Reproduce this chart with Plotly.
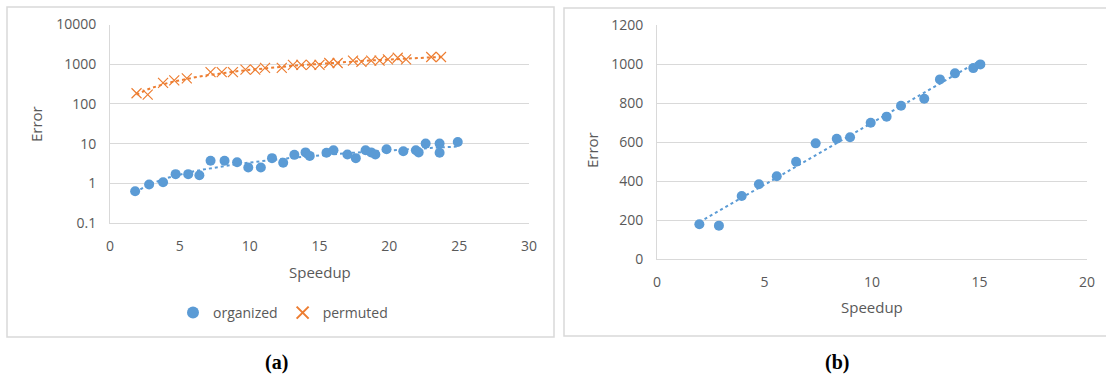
import numpy as np
import plotly.graph_objects as go

# (a) error vs speedup, log scale
org_speedup = [1.8, 2.8, 3.8, 4.7, 5.6, 6.4, 7.2, 8.2, 9.1, 9.9, 10.8, 11.6, 12.4, 13.2, 14.0, 14.3,
               15.5, 16.0, 17.0, 17.6, 18.3, 18.7, 19.0, 19.8, 21.0, 21.9, 22.1, 22.6, 23.6, 23.6, 24.9]
org_error = [0.63, 0.93, 1.06, 1.7, 1.7, 1.6, 3.7, 3.7, 3.4, 2.5, 2.5, 4.3, 3.3, 5.2, 6.0, 4.9,
             5.9, 6.8, 5.3, 4.3, 6.8, 6.0, 5.3, 7.2, 6.4, 6.8, 6.0, 10, 10, 5.9, 11]
perm_speedup = [1.9, 2.7, 3.8, 4.6, 5.5, 7.2, 8.0, 8.8, 9.7, 10.4, 11.1, 12.3, 13.1, 13.7, 14.4,
                15.0, 15.7, 16.3, 17.4, 18.0, 18.7, 19.3, 19.9, 20.6, 21.2, 23.0, 23.7]
perm_error = [185, 172, 338, 393, 441, 630, 630, 630, 730, 730, 807, 807, 960, 960, 960,
              960, 1070, 1070, 1230, 1140, 1230, 1230, 1320, 1450, 1320, 1520, 1520]

# (b) error vs speedup, linear scale
b_speedup = [1.97, 2.88, 3.94, 4.74, 5.57, 6.47, 7.38, 8.36, 8.98, 9.94, 10.68, 11.35, 12.43,
             13.16, 13.86, 14.71, 15.04]
b_error = [178, 171, 323, 383, 424, 499, 593, 617, 624, 699, 730, 786, 822, 921, 952, 979, 998]

log_ticks = [0.1, 1, 10, 100, 1000, 10000]
log_tick_text = ["0.1", "1", "10", "100", "1000", "10000"]

BLUE = "#5B9BD5"
ORANGE = "#ED7D31"
GRID = "#D9D9D9"
TXT = "#595959"
FONT = "Open Sans"
W, H = 1106, 379


def power_trend(x, y, n=60):
    x = np.asarray(x, float)
    y = np.asarray(y, float)
    b, a = np.polyfit(np.log(x), np.log(y), 1)
    xs = np.linspace(x.min(), x.max(), n)
    return xs, np.exp(a) * xs ** b


def linear_trend(x, y):
    x = np.asarray(x, float)
    y = np.asarray(y, float)
    m, c = np.polyfit(x, y, 1)
    xs = np.array([x.min(), x.max()])
    return xs, m * xs + c


fig = go.Figure()

tx, ty = power_trend(org_speedup, org_error)
fig.add_trace(go.Scatter(x=tx, y=ty, mode="lines", line=dict(color=BLUE, width=2, dash="dot"),
                         showlegend=False, hoverinfo="skip", xaxis="x", yaxis="y"))
tx, ty = power_trend(perm_speedup, perm_error)
fig.add_trace(go.Scatter(x=tx, y=ty, mode="lines", line=dict(color=ORANGE, width=2, dash="dot"),
                         showlegend=False, hoverinfo="skip", xaxis="x", yaxis="y"))
fig.add_trace(go.Scatter(x=org_speedup, y=org_error, mode="markers", name="organized",
                         marker=dict(symbol="circle", size=10, color=BLUE),
                         xaxis="x", yaxis="y"))
fig.add_trace(go.Scatter(x=perm_speedup, y=perm_error, mode="markers", name="permuted",
                         marker=dict(symbol="x-thin", size=10, color=ORANGE,
                                     line=dict(width=1.2, color=ORANGE)),
                         xaxis="x", yaxis="y"))

tx, ty = linear_trend(b_speedup, b_error)
fig.add_trace(go.Scatter(x=tx, y=ty, mode="lines", line=dict(color=BLUE, width=2, dash="dot"),
                         showlegend=False, hoverinfo="skip", xaxis="x2", yaxis="y2"))
fig.add_trace(go.Scatter(x=b_speedup, y=b_error, mode="markers", showlegend=False,
                         marker=dict(symbol="circle", size=10, color=BLUE),
                         xaxis="x2", yaxis="y2"))

axis_common = dict(showgrid=True, gridcolor=GRID, gridwidth=1, ticks="",
                   tickfont=dict(family=FONT, size=14, color=TXT),
                   showline=True, linecolor=GRID, linewidth=1, zeroline=False,
                   ticklabelstandoff=10, automargin=False)

fig.update_layout(
    width=W, height=H,
    margin=dict(l=0, r=0, t=0, b=0, autoexpand=False),
    paper_bgcolor="white", plot_bgcolor="white",
    xaxis=dict(axis_common, domain=[110 / W, 529 / W], range=[0, 30], dtick=5,
               showgrid=False, anchor="y"),
    yaxis=dict(axis_common, domain=[1 - 223 / H, 1 - 24.5 / H], type="log", range=[-1, 4],
               tickvals=log_ticks, ticktext=log_tick_text, anchor="x"),
    xaxis2=dict(axis_common, domain=[657 / W, 1087 / W], range=[0, 20], dtick=5,
                showgrid=False, anchor="y2"),
    yaxis2=dict(axis_common, domain=[1 - 259 / H, 1 - 25 / H], range=[0, 1200], dtick=200,
                anchor="x2"),
    legend=dict(orientation="h", x=283 / W, y=1 - 313 / H, xanchor="center", yanchor="middle",
                font=dict(family=FONT, size=14, color=TXT), bgcolor="rgba(0,0,0,0)",
                itemsizing="constant"),
    showlegend=True,
)

# panel frames
fig.add_shape(type="rect", xref="paper", yref="paper",
              x0=7 / W, x1=554 / W, y0=1 - 337 / H, y1=1 - 7 / H,
              line=dict(color=GRID, width=1.5), layer="below")
fig.add_shape(type="rect", xref="paper", yref="paper",
              x0=564 / W, x1=1.01, y0=1 - 336 / H, y1=1 - 8 / H,
              line=dict(color=GRID, width=1.5), layer="below")

def label(text, x, y, size=15, angle=0, **kw):
    fig.add_annotation(text=text, x=x / W, y=1 - y / H, xref="paper", yref="paper",
                       showarrow=False, textangle=angle, xanchor="center", yanchor="middle",
                       font=dict(family=kw.get("family", FONT), size=size,
                                 color=kw.get("color", TXT)))

label("Speedup", 320, 272)
label("Error", 36, 124, angle=-90)
label("Speedup", 872, 307)
label("Error", 592, 150, angle=-90)
label("<b>(a)</b>", 276, 362, size=20, family="Liberation Serif", color="black")
label("<b>(b)</b>", 837, 362, size=20, family="Liberation Serif", color="black")

fig.write_html("out.html")
